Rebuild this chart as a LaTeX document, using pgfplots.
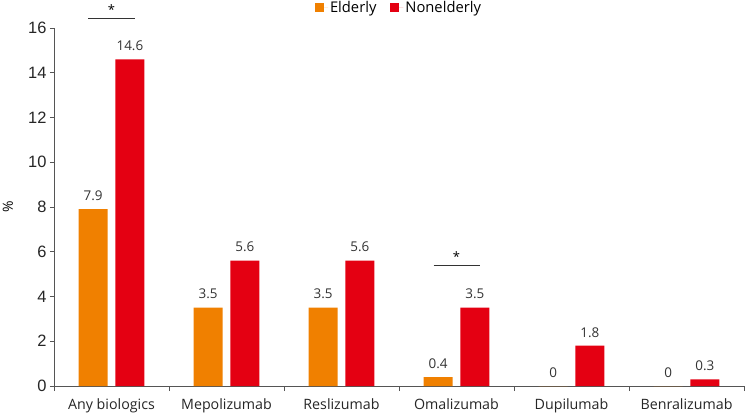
\documentclass[border=0pt]{standalone}
\usepackage{pgfplots}
\pgfplotsset{compat=1.18}
\usepackage{pgfplotstable}
\usepackage{fontspec}
\setmainfont{Open Sans}
\newfontfamily\tickfont{Liberation Sans}
\definecolor{eld}{RGB}{240,128,0}
\definecolor{non}{RGB}{228,0,18}
\definecolor{axgray}{RGB}{85,85,85}

\pgfplotstableread{
x eld non
0 7.9 14.6
1 3.5 5.6
2 3.5 5.6
3 0.4 3.5
4 0 1.8
5 0 0.3
}\biodata

\begin{document}
\begin{tikzpicture}
  \begin{axis}[
      scale only axis, width=690bp, height=358bp,
      xmin=-0.5, xmax=5.5, ymin=0, ymax=16,
      clip=false,
      axis lines*=left,
      axis line style={axgray, line width=0.8pt},
      xtick={0,...,5},
      xticklabels={Any biologics,Mepolizumab,Reslizumab,Omalizumab,Dupilumab,Benralizumab},
      major x tick style={draw=none},
      minor xtick={-0.5,0.5,...,5.5},
      minor x tick style={axgray, line width=0.8pt},
      minor tick length=5bp,
      ytick={0,2,...,16},
      major y tick style={axgray, line width=0.8pt},
      major tick length=4bp,
      tick align=outside,
      /pgf/number format/assume math mode=true,
      yticklabel style={font=\tickfont\fontsize{16.5}{16.5}\selectfont, text=black!85},
      xticklabel style={font=\fontsize{14.3}{16}\selectfont, text=black!85, yshift=-5bp},
      ylabel={\%},
      ylabel style={font=\fontsize{14}{16}\selectfont, anchor=center, at={(axis description cs:-0.067,0.5)}},
      nodes near coords,
      nodes near coords style={font=\fontsize{13.5}{15}\selectfont, text=black!80, yshift=5bp},
      legend style={at={(0.5,1.056)}, anchor=center, draw=none, fill=none,
        font=\fontsize{14.8}{16}\selectfont, legend columns=2,
        /tikz/every even column/.append style={column sep=12bp}},
      legend image code/.code={\fill[#1] (0bp,-4.5bp) rectangle (9bp,4.5bp); \path (0bp,0bp) -- (13bp,0bp);},
    ]
    \addplot[ybar, bar width=0.252, bar shift=-0.16, fill=eld, draw=none,
      every node near coord/.append style={xshift=-18.4bp}] table[x=x, y=eld] {\biodata};
    \addplot[ybar, bar width=0.252, bar shift=0.16, fill=non, draw=none,
      every node near coord/.append style={xshift=18.4bp}] table[x=x, y=non] {\biodata};
    \legend{Elderly, Nonelderly}
    % significance markers
    \draw[black!80, line width=0.8pt] (axis cs:-0.2,16.45) -- (axis cs:0.2,16.45);
    \node[anchor=base, font=\fontsize{13}{14}\selectfont] at (axis cs:0,16.62) {*};
    \draw[black!80, line width=0.8pt] (axis cs:2.8,5.38) -- (axis cs:3.2,5.38);
    \node[anchor=base, font=\fontsize{13}{14}\selectfont] at (axis cs:3,5.55) {*};
  \end{axis}
  \pgfresetboundingbox
  \path[use as bounding box] ([xshift=-54bp,yshift=-30bp]current axis.south west) rectangle ++(746bp,416bp);
\end{tikzpicture}
\end{document}
